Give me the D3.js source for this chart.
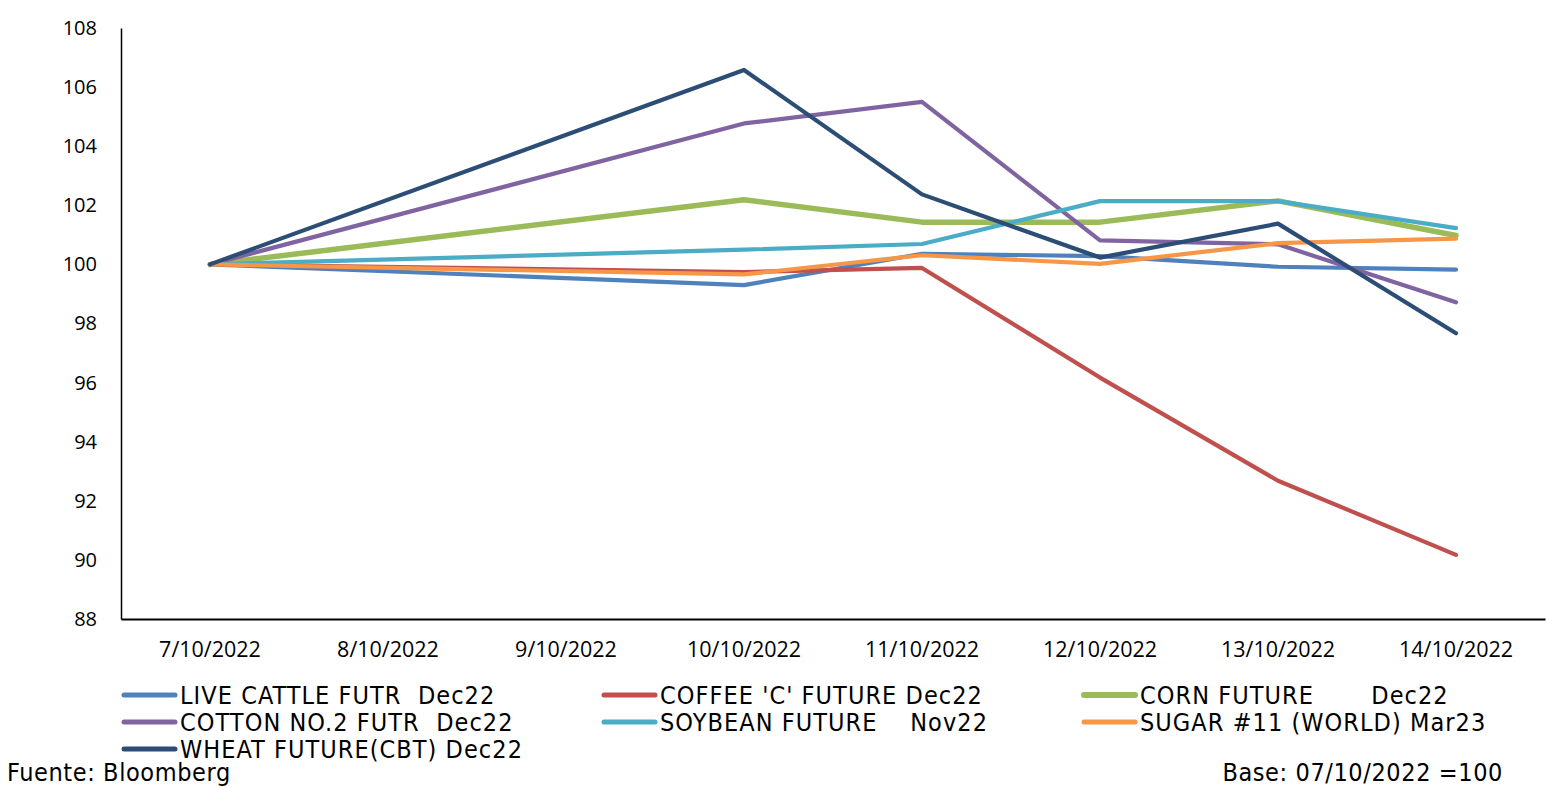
<!DOCTYPE html>
<html>
<head>
<meta charset="utf-8">
<script src="https://cdn.jsdelivr.net/npm/d3@7"></script>
<style>
  body { margin: 0; background: #fff; }
  svg { display: block; }
  .tick-y text { font-family: "Open Sans", sans-serif; font-size: 20px; fill: #000; }
  .tick-x text { font-family: "Open Sans", sans-serif; font-size: 21.5px; fill: #000; }
  .legend text, .note { font-family: "Liberation Sans Narrow", "DejaVu Sans Condensed", "Liberation Sans", sans-serif; font-size: 25px; fill: #000; }
  .legend text { letter-spacing: 1.05px; }
  .note { letter-spacing: 0.6px; }
</style>
</head>
<body>
<div id="chart"></div>
<script>
// categories on the x axis (8/10 and 9/10 have no quotes: weekend)
var dates = ["7/10/2022", "8/10/2022", "9/10/2022", "10/10/2022", "11/10/2022", "12/10/2022", "13/10/2022", "14/10/2022"];
var yTicks = [88, 90, 92, 94, 96, 98, 100, 102, 104, 106, 108];

var seriesNames = [
  "LIVE CATTLE FUTR  Dec22",
  "COFFEE 'C' FUTURE Dec22",
  "CORN FUTURE       Dec22",
  "COTTON NO.2 FUTR  Dec22",
  "SOYBEAN FUTURE    Nov22",
  "SUGAR #11 (WORLD) Mar23",
  "WHEAT FUTURE(CBT) Dec22"
];
var seriesColors = ["#4F81BD", "#C0504D", "#9BBB59", "#8064A2", "#4BACC6", "#F79646", "#2C4D75"];

var liveCattle = [100, null, null, 99.30, 100.36, 100.28, 99.92, 99.82];
var coffee     = [100, null, null, 99.74, 99.88, 96.17, 92.68, 90.17];
var corn       = [100, null, null, 102.19, 101.43, 101.43, 102.15, 100.98];
var cotton     = [100, null, null, 104.77, 105.50, 100.81, 100.68, 98.72];
var soybean    = [100, null, null, 100.50, 100.69, 102.14, 102.14, 101.23];
var sugar      = [100, null, null, 99.66, 100.31, 100.02, 100.72, 100.87];
var wheat      = [100, null, null, 106.58, 102.37, 100.23, 101.38, 97.67];

var seriesValues = [liveCattle, coffee, corn, cotton, soybean, sugar, wheat];

var W = 1547, H = 788;
var margin = { left: 121, right: 2, top: 28, bottom: 169 };

var svg = d3.select("#chart").append("svg")
  .attr("width", W)
  .attr("height", H);

var x = d3.scaleBand()
  .domain(dates)
  .range([margin.left, W - margin.right])
  .padding(0);

var y = d3.scaleLinear()
  .domain([88, 108])
  .range([H - margin.bottom, margin.top]);

// axes
var yAxis = svg.append("g")
  .attr("class", "tick-y")
  .attr("transform", "translate(" + margin.left + ",0)")
  .call(d3.axisLeft(y).tickValues(yTicks).tickSize(0).tickPadding(24));
yAxis.select(".domain").attr("stroke", "#000").attr("stroke-width", 1.5);

var xAxis = svg.append("g")
  .attr("class", "tick-x")
  .attr("transform", "translate(0," + y(88) + ")")
  .call(d3.axisBottom(x).tickSize(0).tickPadding(23));
xAxis.select(".domain").attr("stroke", "#000").attr("stroke-width", 2);

// lines
var line = d3.line()
  .x(function(d){ return x(d.date) + x.bandwidth() / 2; })
  .y(function(d){ return y(d.value); });

seriesValues.forEach(function(vals, i){
  var pts = [];
  for (var j = 0; j < dates.length; j++) {
    if (vals[j] != null) pts.push({ date: dates[j], value: vals[j] });
  }
  svg.append("path")
    .datum(pts)
    .attr("d", line)
    .attr("fill", "none")
    .attr("stroke", seriesColors[i])
    .attr("stroke-width", i == 2 ? 5.5 : 4.2)
    .attr("stroke-linecap", "round")
    .attr("stroke-linejoin", "round");
});

// legend, 3 columns
var legend = svg.append("g").attr("class", "legend");
var colX = [122, 602, 1082];
var rowY = [695, 722, 749];

seriesNames.forEach(function(name, i){
  var cx = colX[i % 3], cy = rowY[Math.floor(i / 3)];
  legend.append("line")
    .attr("x1", cx + 2).attr("x2", cx + 53)
    .attr("y1", cy).attr("y2", cy)
    .attr("stroke", seriesColors[i])
    .attr("stroke-width", i == 2 ? 6 : 5)
    .attr("stroke-linecap", "round");
  legend.append("text")
    .attr("x", cx + 58)
    .attr("y", cy + 9)
    .attr("xml:space", "preserve")
    .style("white-space", "pre")
    .text(name);
});

svg.append("text")
  .attr("class", "note")
  .attr("x", 7)
  .attr("y", 781)
  .text("Fuente: Bloomberg");

svg.append("text")
  .attr("class", "note")
  .attr("x", 1503)
  .attr("y", 781)
  .attr("text-anchor", "end")
  .text("Base: 07/10/2022 =100");
</script>
</body>
</html>
